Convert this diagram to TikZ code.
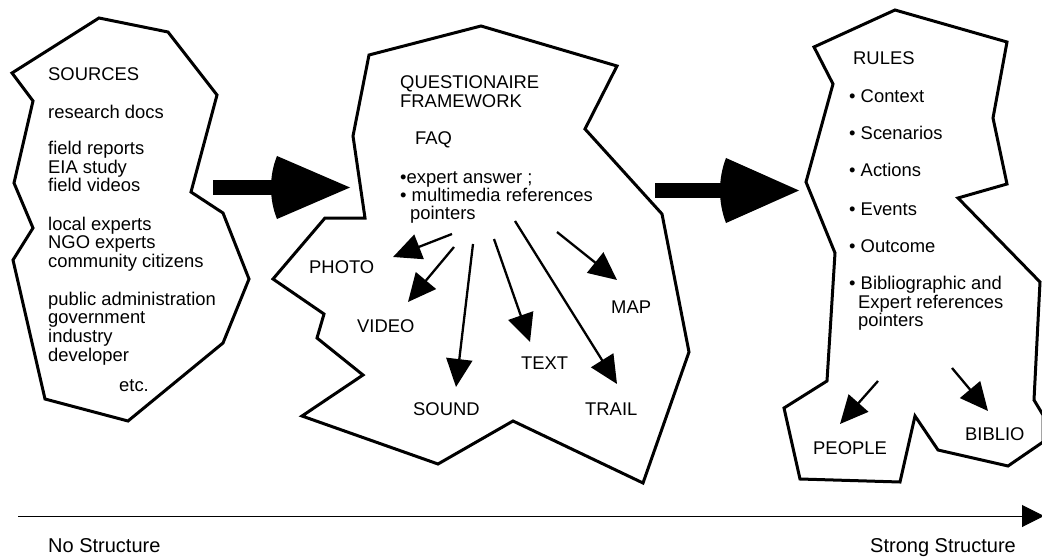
\documentclass[tikz,border=0pt]{standalone}
\usepackage{fontspec}
\setmainfont{Liberation Sans}
\usepackage{tikz}
\usetikzlibrary{arrows.meta,calc}

\begin{document}
\begin{tikzpicture}[x=1pt,y=-1pt,
	blob/.style={line width=3pt,line join=miter},
	ptr/.style={line width=2.3pt,-{Triangle[length=28pt,width=26pt]}},
	lbl/.style={inner sep=0pt,anchor=base west,font=\fontsize{18.4}{19}\selectfont}]
	\useasboundingbox (0,0) rectangle (1042,559);
	
	% blobs
	\draw[blob] (99,18) -- (168,32) -- (217,95) -- (191,192) -- (223,213) -- (249,279) -- (223,343) -- (128,421) -- (45,399) -- (13,260) -- (33,228) -- (14,183) -- (33,101) -- (12,73) -- cycle;
	\draw[blob] (369,55) -- (481,26) -- (617,66) -- (585,129) -- (662,214) -- (689,352) -- (643,483) -- (513,421) -- (438,464) -- (302,416) -- (363,375) -- (317,338) -- (324,314) -- (273,279) -- (325,218) -- (365,218) -- (353,136) -- cycle;
	\draw[blob] (814,47) -- (895,10) -- (1007,42) -- (993,118) -- (1007,184) -- (958,198) -- (1040,282) -- (1034,400) -- (1043,415) -- (1043,442) -- (1008,466) -- (938,450) -- (915,416) -- (900,482) -- (800,479) -- (784,408) -- (827,381) -- (835,253) -- (806,182) -- (833,84) -- cycle;
	
	% sources
	\foreach \txt/\y [count=\i] in {SOURCES/81, research docs/119, field reports/155, EIA study/174, field videos/192, local experts/230, NGO experts/248, community citizens/267, public administration/305, government/323, industry/342, developer/361}
		\node[lbl] (src\i) at (48,\y) {\txt};
	\node[lbl] (etc) at (119,391) {etc.};
	
	% questionaire
	\foreach \txt/\x/\y [count=\i] in {QUESTIONAIRE/400/89, FRAMEWORK/400/108, FAQ/415/145, •expert answer ;/400/183, • multimedia references/400/201, pointers/410/219}
		\node[lbl] (qf\i) at (\x,\y) {\txt};
	\node[lbl] (photo) at (309,273) {PHOTO};
	\node[lbl] (video) at (357,332) {VIDEO};
	\node[lbl] (sound) at (413,415) {SOUND};
	\node[lbl] (text) at (521,369) {TEXT};
	\node[lbl] (trail) at (585,415) {TRAIL};
	\node[lbl] (map) at (611,313) {MAP};
	
	% rules
	\foreach \txt/\x/\y [count=\i] in {RULES/853/65, • Context/849/103, • Scenarios/849/140, • Actions/849/177, • Events/849/215, • Outcome/849/252, • Bibliographic and/849/289, Expert references/858/308, pointers/858/326}
		\node[lbl] (ru\i) at (\x,\y) {\txt};
	\node[lbl] (people) at (813,454) {PEOPLE};
	\node[lbl] (biblio) at (965,440) {BIBLIO};
	
	% big arrows
	\coordinate (srcR) at (213,187.5);
	\coordinate (qfR) at (655,190.5);
	\foreach \s/\bk/\tp/\hw in {srcR/64/137/31.5, qfR/71/144/32.5}{
		\fill ($(\s)+(0,-7.5)$) rectangle ($(\s)+(\bk+2,7.5)$);
		\fill ($(\s)+(\bk,-\hw)$) -- ($(\s)+(\tp,0)$) -- ($(\s)+(\bk,\hw)$) .. controls ($(\s)+(\bk-8,12)$) and ($(\s)+(\bk-8,-12)$) .. ($(\s)+(\bk,-\hw)$) -- cycle;
	}
	
	% media pointers
	\coordinate (a-photo) at (452,234); \coordinate (t-photo) at (393,257);
	\coordinate (a-video) at (454,247); \coordinate (t-video) at (408,302);
	\coordinate (a-sound) at (473,244); \coordinate (t-sound) at (456,387);
	\coordinate (a-text) at (494,239); \coordinate (t-text) at (530,342);
	\coordinate (a-trail) at (515,221); \coordinate (t-trail) at (617,384);
	\coordinate (a-map) at (557,232); \coordinate (t-map) at (617,280);
	\coordinate (a-people) at (878,381); \coordinate (t-people) at (840,424);
	\coordinate (a-biblio) at (952,368); \coordinate (t-biblio) at (988,411);
	\foreach \m in {photo,video,sound,text,trail,map,people,biblio}
		\draw[ptr] (a-\m) -- (t-\m);
	
	% structure axis
	\coordinate (nostr) at (18,516);
	\coordinate (strong) at (1044,516);
	\draw[line width=1pt,-{Triangle[length=22pt,width=22pt]}] (nostr) -- (strong);
	\node[lbl,font=\fontsize{20}{22}\selectfont] (none) at (48,552) {No Structure};
	\node[lbl,font=\fontsize{20}{22}\selectfont] (strongl) at (870,552) {Strong Structure};
\end{tikzpicture}
\end{document}
